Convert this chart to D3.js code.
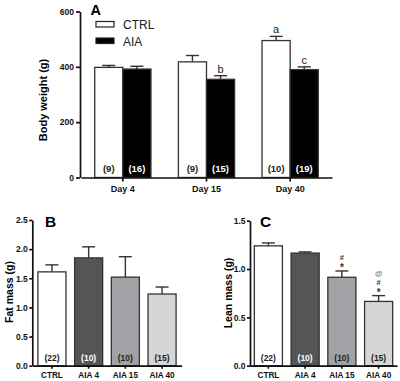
<!DOCTYPE html>
<html>
<head>
<meta charset="utf-8">
<script src="https://cdn.jsdelivr.net/npm/d3@7"></script>
<style>
  body { margin: 0; padding: 0; background: white; }
  svg { display: block; }
  text { font-family: Arial, "Liberation Sans", sans-serif; }
</style>
</head>
<body>
<svg width="400" height="381"></svg>
<script>
// ---- data ----
const days = ["Day 4", "Day 15", "Day 40"];
const weightSeries = ["CTRL", "AIA"];
const weightMean = { CTRL: [398, 418, 495], AIA: [392, 355, 390] };
const weightErr  = { CTRL: [7, 23, 15],    AIA: [10, 13, 10] };
const weightN    = { CTRL: ["(9)", "(9)", "(10)"], AIA: ["(16)", "(15)", "(19)"] };
const weightMarks = { CTRL: ["", "", "a"], AIA: ["", "b", "c"] };
const weightTicks = [0, 200, 400, 600];

const groups = ["CTRL", "AIA 4", "AIA 15", "AIA 40"];
const groupN = ["(22)", "(10)", "(10)", "(15)"];
const fatMean = [1.61, 1.85, 1.52, 1.23];
const fatErr  = [0.12, 0.19, 0.35, 0.12];
const fatTicks = [0, 0.5, 1.0, 1.5, 2.0, 2.5];
const leanMean = [1.24, 1.165, 0.915, 0.665];
const leanErr  = [0.03, 0.012, 0.065, 0.06];
const leanMarks = [[], [], ["*", "#"], ["*", "#", "@"]];
const leanTicks = [0, 0.5, 1.0, 1.5];

const groupFill = ["#ffffff", "#555555", "#a2a2a6", "#d6d6d6"];
const groupText = ["#222", "#fff", "#222", "#222"];

const svg = d3.select("svg");
const ink = "#111";

function styleAxis(g, size) {
    g.selectAll("path, line").attr("stroke", ink).attr("stroke-width", 1.7);
    g.selectAll("text").attr("font-size", size).attr("font-weight", "bold").attr("fill", ink);
}

function errorBar(g, cx, yTop, yBar, cap) {
    g.append("line").attr("x1", cx).attr("x2", cx).attr("y1", yBar).attr("y2", yTop)
        .attr("stroke", "#333").attr("stroke-width", 1.4);
    g.append("line").attr("x1", cx - cap / 2).attr("x2", cx + cap / 2).attr("y1", yTop).attr("y2", yTop)
        .attr("stroke", "#333").attr("stroke-width", 1.4);
}

// ---- panel A : body weight ----
const ax = d3.scaleBand().domain(days).range([81, 332]).paddingInner(0.328).paddingOuter(0.164);
const axSub = d3.scaleBand().domain(weightSeries).range([0, ax.bandwidth()]);
const ay = d3.scaleLinear().domain([0, 600]).range([177.5, 11.5]);

const gA = svg.append("g");
weightSeries.forEach(s => {
    days.forEach((d, i) => {
        const x0 = ax(d) + axSub(s);
        const w = axSub.bandwidth();
        errorBar(gA, x0 + w / 2, ay(weightMean[s][i] + weightErr[s][i]), ay(weightMean[s][i]), 13);
        gA.append("rect")
            .attr("x", x0).attr("y", ay(weightMean[s][i]))
            .attr("width", w).attr("height", ay(0) - ay(weightMean[s][i]))
            .attr("fill", s === "CTRL" ? "#fff" : "#000")
            .attr("stroke", "#333").attr("stroke-width", 1.3);
        gA.append("text")
            .attr("x", x0 + w / 2).attr("y", 172)
            .attr("text-anchor", "middle")
            .attr("font-size", 9.5).attr("font-weight", "bold")
            .attr("fill", s === "CTRL" ? "#222" : "#fff")
            .text(weightN[s][i]);
        if (weightMarks[s][i]) {
            gA.append("text")
                .attr("x", x0 + w / 2).attr("y", ay(weightMean[s][i] + weightErr[s][i]) - 3)
                .attr("text-anchor", "middle")
                .attr("font-size", 11).attr("fill", "#222")
                .text(weightMarks[s][i]);
        }
    });
});

gA.append("g").attr("transform", "translate(80,0)")
    .call(d3.axisLeft(ay).tickValues(weightTicks).tickSize(4).tickSizeOuter(0).tickPadding(2))
    .call(g => styleAxis(g, 8.5));
gA.append("g").attr("transform", `translate(0,${ay(0)})`)
    .call(d3.axisBottom(ax).tickSize(4).tickSizeOuter(0).tickPadding(4))
    .call(g => styleAxis(g, 9));

gA.append("text").attr("transform", `translate(47,100) rotate(-90)`)
    .attr("text-anchor", "middle").attr("font-size", 11).attr("font-weight", "bold")
    .text("Body weight  (g)");
gA.append("text").attr("x", 90.5).attr("y", 15).attr("font-size", 14.5).attr("font-weight", "bold").text("A");

// legend
weightSeries.forEach((s, i) => {
    const ly = 21.5 + i * 16.5;
    gA.append("rect").attr("x", 96).attr("y", ly).attr("width", 18).attr("height", 5.5)
        .attr("fill", s === "CTRL" ? "#fff" : "#000").attr("stroke", "#222").attr("stroke-width", 1.2);
    gA.append("text").attr("x", 123).attr("y", ly + 7.5).attr("font-size", 12).attr("fill", "#222").text(s);
});

// ---- panels B and C ----
function groupPanel(opts) {
    const g = svg.append("g");
    const x = d3.scaleBand().domain(groups).range(opts.xRange).paddingInner(0.236).paddingOuter(opts.pOuter);
    const y = d3.scaleLinear().domain(opts.domain).range([365.7, opts.yTop]);
    groups.forEach((grp, i) => {
        const x0 = x(grp), w = x.bandwidth();
        errorBar(g, x0 + w / 2, y(opts.mean[i] + opts.err[i]), y(opts.mean[i]), 13);
        g.append("rect").attr("x", x0).attr("y", y(opts.mean[i]))
            .attr("width", w).attr("height", y(0) - y(opts.mean[i]))
            .attr("fill", groupFill[i]).attr("stroke", "#333").attr("stroke-width", 1.3);
        g.append("text").attr("x", x0 + w / 2).attr("y", 360.5)
            .attr("text-anchor", "middle").attr("font-size", 8.5).attr("font-weight", "bold")
            .attr("fill", groupText[i]).text(groupN[i]);
        if (opts.marks) {
            opts.marks[i].forEach((m, k) => {
                g.append("text").attr("x", x0 + w / 2)
                    .attr("y", y(opts.mean[i] + opts.err[i]) - 2.5 - k * 8.5)
                    .attr("text-anchor", "middle").attr("font-size", m === "*" ? 10 : 7.5)
                    .attr("font-weight", "bold").attr("fill", m === "@" ? "#777" : "#333")
                    .attr("dy", m === "*" ? "0.3em" : 0)
                    .text(m);
            });
        }
    });
    g.append("g").attr("transform", `translate(${opts.xRange[0]},0)`)
        .call(d3.axisLeft(y).tickValues(opts.ticks).tickFormat(d3.format(".1f")).tickSize(3).tickSizeOuter(0).tickPadding(1.5))
        .call(a => styleAxis(a, 8.5));
    g.append("g").attr("transform", `translate(0,${y(0)})`)
        .call(d3.axisBottom(x).tickSize(3).tickSizeOuter(0).tickPadding(3))
        .call(a => styleAxis(a, 8.2));
    g.append("text").attr("transform", `translate(${opts.labelX},${opts.labelY}) rotate(-90)`)
        .attr("text-anchor", "middle").attr("font-size", 10.5).attr("font-weight", "bold")
        .text(opts.label);
    g.append("text").attr("x", opts.letterX).attr("y", 227).attr("font-size", 15.5).attr("font-weight", "bold")
        .text(opts.letter);
}

groupPanel({
    xRange: [32.3, 181.7], pOuter: 0.153, domain: [0, 2.5], yTop: 220,
    mean: fatMean, err: fatErr, ticks: fatTicks,
    label: "Fat mass (g)", labelX: 12.5, labelY: 292, letter: "B", letterX: 45
});
groupPanel({
    xRange: [250, 397], pOuter: 0.118, domain: [0, 1.5], yTop: 220.7,
    mean: leanMean, err: leanErr, ticks: leanTicks, marks: leanMarks,
    label: "Lean mass (g)", labelX: 231.5, labelY: 293, letter: "C", letterX: 260
});
</script>
</body>
</html>
